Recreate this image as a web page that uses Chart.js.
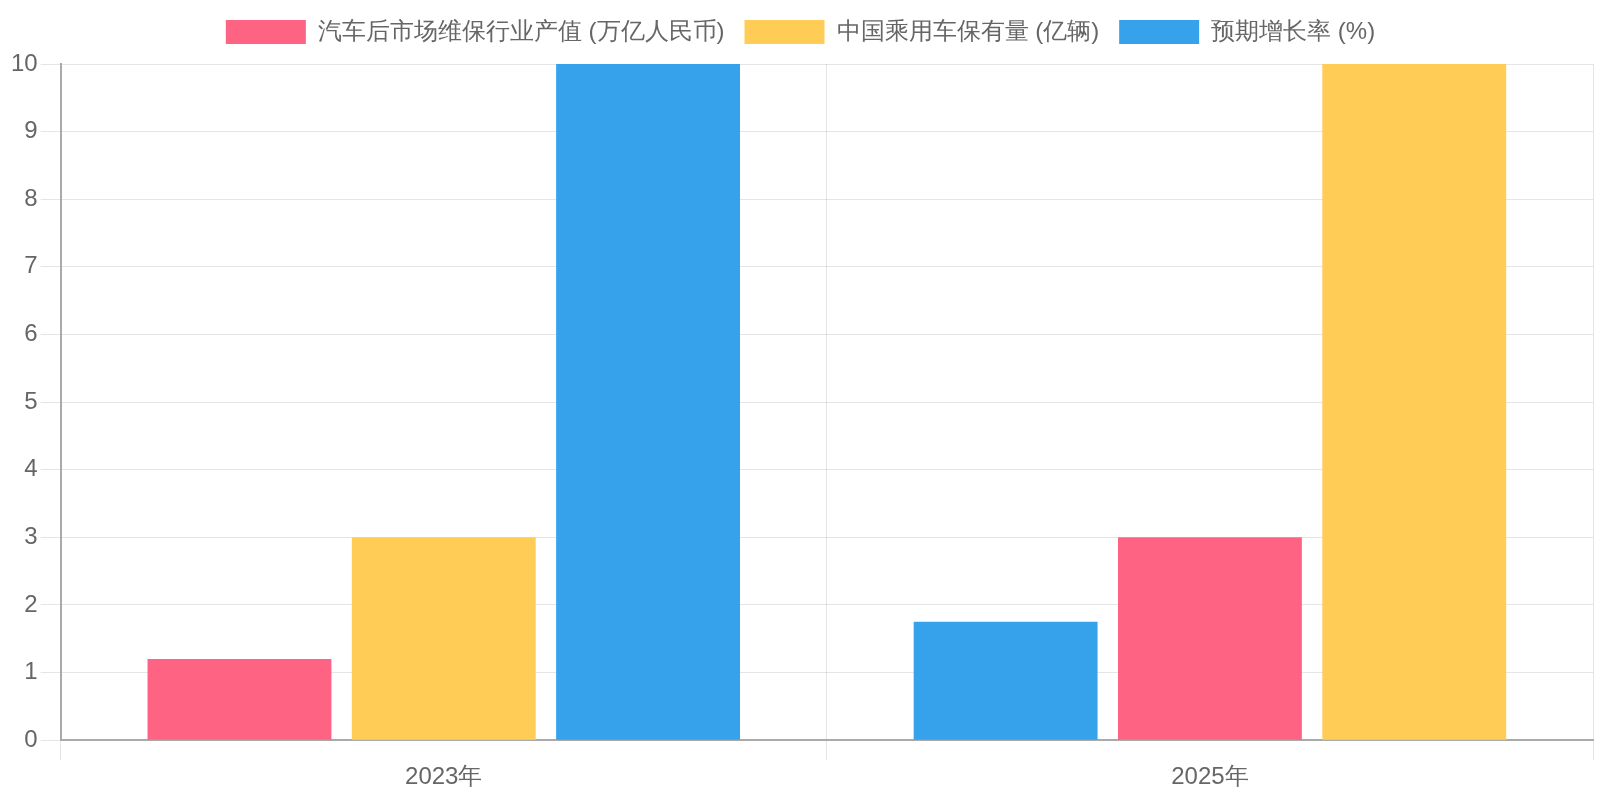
<!DOCTYPE html>
<html>
<head>
<meta charset="utf-8">
<script src="https://cdn.jsdelivr.net/npm/chart.js@4"></script>
<style>
 html,body{margin:0;height:100%;}
 #wrap{width:100vw;height:100vh;}
</style>
</head>
<body>
<div id="wrap"><canvas id="myChart"></canvas></div>
<script>
const categories=['2023年','2025年'];
const seriesNames=['汽车后市场维保行业产值 (万亿人民币)','中国乘用车保有量 (亿辆)','预期增长率 (%)'];
const series1=[1.2,1.75];
const series2=[3,3];
const series3=[12,12];
const yTicks=[0,1,2,3,4,5,6,7,8,9,10];

const red='rgb(255,99,132)', yellow='rgb(255,205,86)', blue='rgb(54,162,235)';
// colours go per bar, the reference shuffles them in the second group
const colors1=[red,blue];
const colors2=[yellow,red];
const colors3=[blue,yellow];

// a bit more room under the legend
const legendGap={
 id:'legendGap',
 beforeInit(chart){
  const fit=chart.legend.fit;
  chart.legend.fit=function(){
   fit.bind(chart.legend)();
   this.height+=10;
  };
 }
};

const ctx=document.getElementById('myChart');
if(ctx){
new Chart(ctx,{
 type:'bar',
 data:{
  labels:categories,
  datasets:[
   {label:seriesNames[0],data:series1,backgroundColor:colors1},
   {label:seriesNames[1],data:series2,backgroundColor:colors2},
   {label:seriesNames[2],data:series3,backgroundColor:colors3}
  ]
 },
 plugins:[legendGap],
 options:{
  responsive:true,
  maintainAspectRatio:false,
  animation:false,
  layout:{padding:{top:0,left:8,right:7,bottom:5}},
  plugins:{
   legend:{
    labels:{boxWidth:80,boxHeight:24,padding:20,font:{size:24},color:'#666'}
   },
   tooltip:{enabled:false}
  },
  scales:{
   x:{
    grid:{color:'rgba(0,0,0,0.1)',tickLength:20},
    border:{color:'#aaa',width:2},
    ticks:{font:{size:24},color:'#666'}
   },
   y:{
    min:yTicks[0],
    max:yTicks[yTicks.length-1],
    grid:{color:'rgba(0,0,0,0.1)',tickLength:20},
    border:{color:'#aaa',width:2},
    ticks:{stepSize:1,font:{size:24},color:'#666'}
   }
  }
 }
});
}
</script>
</body>
</html>
